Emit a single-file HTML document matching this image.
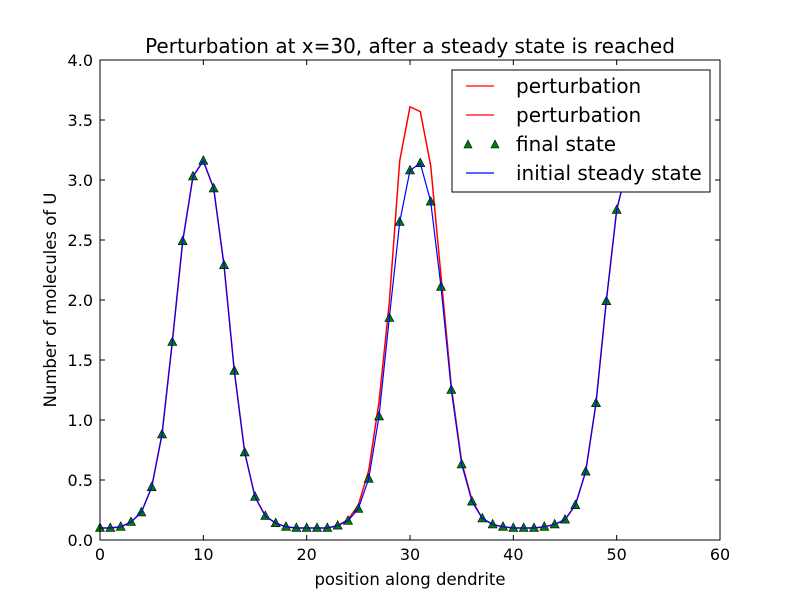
<!DOCTYPE html>
<html><head><meta charset="utf-8"><style>
body{margin:0;background:#fff;}
svg{display:block;font-family:"DejaVu Sans","Liberation Sans",sans-serif;}
</style></head><body>
<svg id="chart" width="800" height="600">
<rect width="800" height="600" fill="#fff"/>
<g id="marks"></g>
<g id="axes"></g>
</svg>
<script>
const xs=[0,1,2,3,4,5,6,7,8,9,10,11,12,13,14,15,16,17,18,19,20,21,22,23,24,25,26,27,28,29,30,31,32,33,34,35,36,37,38,39,40,41,42,43,44,45,46,47,48,49,50,51];
const steady=[0.10,0.10,0.11,0.15,0.23,0.44,0.88,1.65,2.49,3.03,3.16,2.93,2.29,1.41,0.73,0.36,0.20,0.14,0.11,0.10,0.10,0.10,0.10,0.12,0.16,0.26,0.51,1.03,1.85,2.65,3.08,3.14,2.82,2.11,1.25,0.63,0.32,0.18,0.13,0.11,0.10,0.10,0.10,0.11,0.13,0.17,0.29,0.57,1.14,1.99,2.75,3.10];
const perturb=[0.10,0.10,0.11,0.15,0.23,0.44,0.88,1.65,2.49,3.03,3.16,2.93,2.29,1.41,0.73,0.36,0.20,0.14,0.11,0.10,0.10,0.10,0.10,0.12,0.17,0.29,0.58,1.15,1.98,3.16,3.61,3.57,3.12,2.20,1.28,0.65,0.33,0.18,0.13,0.11,0.10,0.10,0.10,0.11,0.13,0.17,0.29,0.57,1.14,1.99,2.75,3.10];
const finalState=[0.10,0.10,0.11,0.15,0.23,0.44,0.88,1.65,2.49,3.03,3.16,2.93,2.29,1.41,0.73,0.36,0.20,0.14,0.11,0.10,0.10,0.10,0.10,0.12,0.16,0.26,0.51,1.03,1.85,2.65,3.08,3.14,2.82,2.11,1.25,0.63,0.32,0.18,0.13,0.11,0.10,0.10,0.10,0.11,0.13,0.17,0.29,0.57,1.14,1.99,2.75,3.10];
const xTicks=[0,10,20,30,40,50,60];
const yTicks=[0.0,0.5,1.0,1.5,2.0,2.5,3.0,3.5,4.0];
const L=100,R=720,T=60,B=540;
const sx=v=>L+(v-0)/(60-0)*(R-L);
const sy=v=>B-(v-0)/(4-0)*(B-T);
const NS='http://www.w3.org/2000/svg';
function mk(tag,attrs,parent){const e=document.createElementNS(NS,tag);for(const k in attrs)e.setAttribute(k,attrs[k]);parent.appendChild(e);return e;}
const marks=document.getElementById('marks'),axes=document.getElementById('axes');
const pts=a=>xs.map((x,i)=>sx(x).toFixed(1)+','+sy(a[i]).toFixed(1)).join(' ');
let l1=mk('polyline',{points:pts(perturb),fill:'none',stroke:'#ff0000','stroke-width':1.5},marks);


xs.forEach((x,i)=>{const cx=sx(x),cy=sy(finalState[i]);
 const t=mk('polygon',{points:`${cx},${cy-5} ${cx-4.5},${cy+3.5} ${cx+4.5},${cy+3.5}`,fill:'#008000',stroke:'#000','stroke-width':0.6},marks);
 
 });
let l2=mk('polyline',{points:pts(steady),fill:'none',stroke:'#0000ff','stroke-width':1.2},marks);


let fr=mk('rect',{x:L,y:T,width:R-L,height:B-T,fill:'none',stroke:'#000','stroke-width':1},axes);


xTicks.forEach(v=>{const x=sx(v);
 mk('line',{x1:x,y1:B,x2:x,y2:B-5,stroke:'#000'},axes);mk('line',{x1:x,y1:T,x2:x,y2:T+5,stroke:'#000'},axes);
 const t=mk('text',{x:x,y:B+20,'text-anchor':'middle','font-size':16},axes);t.textContent=v;
 
 });
yTicks.forEach(v=>{const y=sy(v);
 mk('line',{x1:L,y1:y,x2:L+5,y2:y,stroke:'#000'},axes);mk('line',{x1:R,y1:y,x2:R-5,y2:y,stroke:'#000'},axes);
 const t=mk('text',{x:L-7,y:y+6,'text-anchor':'end','font-size':16},axes);t.textContent=v.toFixed(1);
 
 });
</script>
<svg style="position:absolute;left:0;top:0" width="800" height="600">
<text x="410" y="53" text-anchor="middle" font-size="20">Perturbation at x=30, after a steady state is reached</text>
<text x="410" y="585" text-anchor="middle" font-size="16.5">position along dendrite</text>
<text transform="translate(56,300) rotate(-90)" text-anchor="middle" font-size="16.5">Number of molecules of U</text>
<g>
<rect x="452" y="70" width="258" height="122" fill="#fff" stroke="#000" stroke-width="1"/>
<line x1="466" y1="86" x2="494" y2="86" stroke="#ff0000" stroke-width="1.2"/>
<text x="516" y="93" font-size="20">perturbation</text>
<line x1="466" y1="115" x2="494" y2="115" stroke="#ff0000" stroke-width="1.2"/>
<text x="516" y="122" font-size="20">perturbation</text>
<polygon points="468,140 464,148 472,148" fill="#008000" stroke="#000" stroke-width="0.6"/>
<polygon points="495,140 491,148 499,148" fill="#008000" stroke="#000" stroke-width="0.6"/>
<text x="516" y="151" font-size="20">final state</text>
<line x1="466" y1="173" x2="494" y2="173" stroke="#0000ff" stroke-width="1.2"/>
<text x="516" y="180" font-size="20">initial steady state</text>
</g>
</svg>
</body></html>
